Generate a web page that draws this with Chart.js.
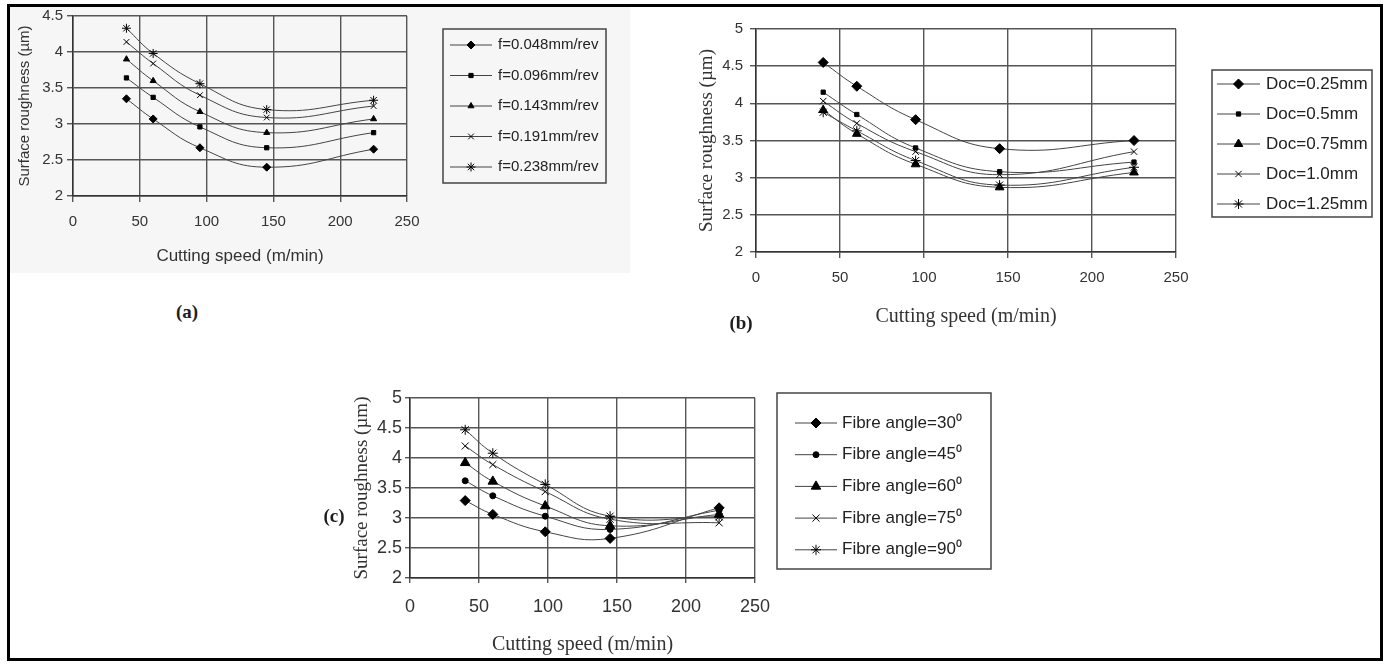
<!DOCTYPE html>
<html>
<head>
<meta charset="utf-8">
<title>Surface roughness vs cutting speed</title>
<script src="https://cdn.jsdelivr.net/npm/chart.js@4.4.1/dist/chart.umd.min.js"></script>
<style>
  html, body { margin: 0; padding: 0; background: #fff; }
  body { width: 1385px; height: 665px; position: relative; overflow: hidden; }
  canvas { position: absolute; }
  .shade { position: absolute; left: 10px; top: 7px; width: 620px; height: 266px; background: #f6f6f6; }
  .frame { position: absolute; left: 7px; top: 4px; width: 1376px; height: 657px; box-sizing: border-box; border: 3px solid #000; pointer-events: none; }
  .tag { position: absolute; font-family: "Liberation Serif", "Times New Roman", serif; font-weight: bold; font-size: 19px; color: #1e1e1e; transform: translate(-50%, -50%); }
</style>
</head>
<body>
<div class="shade"></div>
<canvas id="chartA" width="640" height="300" style="left:0px;top:0px"></canvas>
<canvas id="chartB" width="695" height="345" style="left:690px;top:0px"></canvas>
<canvas id="chartC" width="680" height="285" style="left:340px;top:380px"></canvas>
<div class="tag" style="left:187px;top:312px">(a)</div>
<div class="tag" style="left:741px;top:323px">(b)</div>
<div class="tag" style="left:334px;top:516px">(c)</div>
<div class="frame"></div>

<script>
// cutting speeds (m/min) of the measured points
const speedA = [40, 60, 95, 145, 225];
const speedB = [40, 60, 95, 145, 225];
const speedC = [40, 60, 98, 145, 224];

// axis ticks
const speedTicks = [0, 50, 100, 150, 200, 250];
const roughTicksA = [2, 2.5, 3, 3.5, 4, 4.5];
const roughTicksBC = [2, 2.5, 3, 3.5, 4, 4.5, 5];

// (a) feed rate
const feedLabels = ['f=0.048mm/rev', 'f=0.096mm/rev', 'f=0.143mm/rev', 'f=0.191mm/rev', 'f=0.238mm/rev'];
const feed048 = [3.35, 3.07, 2.67, 2.40, 2.65];
const feed096 = [3.64, 3.37, 2.96, 2.67, 2.88];
const feed143 = [3.90, 3.60, 3.17, 2.88, 3.07];
const feed191 = [4.14, 3.84, 3.40, 3.09, 3.25];
const feed238 = [4.33, 3.98, 3.56, 3.20, 3.33];

// (b) depth of cut
const docLabels = ['Doc=0.25mm', 'Doc=0.5mm', 'Doc=0.75mm', 'Doc=1.0mm', 'Doc=1.25mm'];
const doc025 = [4.55, 4.23, 3.78, 3.39, 3.50];
const doc050 = [4.15, 3.85, 3.40, 3.08, 3.21];
const doc075 = [3.91, 3.59, 3.18, 2.87, 3.07];
const doc100 = [4.03, 3.73, 3.35, 3.04, 3.35];
const doc125 = [3.88, 3.63, 3.23, 2.90, 3.14];

// (c) fibre angle
const angleLabels = ['Fibre angle=30⁰', 'Fibre angle=45⁰', 'Fibre angle=60⁰', 'Fibre angle=75⁰', 'Fibre angle=90⁰'];
const angle30 = [3.29, 3.06, 2.77, 2.66, 3.17];
const angle45 = [3.62, 3.37, 3.03, 2.81, 3.13];
const angle60 = [3.92, 3.61, 3.20, 2.87, 3.06];
const angle75 = [4.20, 3.89, 3.44, 2.98, 2.92];
const angle90 = [4.47, 4.08, 3.56, 3.03, 3.02];

const SANS = '"Liberation Sans", Arial, sans-serif';
const SERIF = '"Liberation Serif", "Times New Roman", serif';

// legend drawn as a framed box beside the plot (line + marker + text)
const boxLegend = {
  id: 'boxLegend',
  afterDraw(chart, args, opts) {
    const ctx = chart.ctx;
    ctx.save();
    ctx.strokeStyle = '#444';
    ctx.lineWidth = 1.5;
    ctx.strokeRect(opts.left, opts.top, opts.width, opts.height);
    ctx.font = opts.font;
    ctx.textBaseline = 'middle';
    chart.data.datasets.forEach((ds, i) => {
      const y = opts.firstRow + i * opts.rowGap;
      ctx.strokeStyle = ds.borderColor;
      ctx.lineWidth = 1;
      ctx.beginPath();
      ctx.moveTo(opts.lineFrom, y);
      ctx.lineTo(opts.lineTo, y);
      ctx.stroke();
      ctx.fillStyle = ds.pointBackgroundColor;
      ctx.strokeStyle = ds.pointBorderColor;
      Chart.helpers.drawPoint(ctx, {
        pointStyle: ds.pointStyle, radius: ds.pointRadius, rotation: 0, borderWidth: ds.pointBorderWidth
      }, (opts.lineFrom + opts.lineTo) / 2, y);
      ctx.fillStyle = '#222';
      ctx.fillText(ds.label, opts.textX, y);
    });
    ctx.restore();
  }
};

function buildSets(labels, speeds, series, markers) {
  return series.map((vals, i) => ({
    label: labels[i],
    data: speeds.map((s, j) => ({ x: s, y: vals[j] })),
    borderColor: '#444',
    borderWidth: 1,
    tension: 0.45,
    fill: false,
    pointStyle: markers[i][0],
    pointRadius: markers[i][1],
    pointBackgroundColor: '#000',
    pointBorderColor: '#000',
    pointBorderWidth: 1
  }));
}

function axes(g) {
  return {
    x: {
      type: 'linear',
      min: speedTicks[0],
      max: speedTicks[speedTicks.length - 1],
      afterBuildTicks: s => { s.ticks = speedTicks.map(v => ({ value: v })); },
      ticks: { padding: g.xPad, color: '#333', font: { family: SANS, size: g.tick } },
      grid: { color: '#555', lineWidth: 1.4, tickLength: g.tl, tickColor: '#555' },
      border: { color: '#333', width: 1.5 },
      title: { display: true, text: 'Cutting speed (m/min)', color: '#333', padding: 0,
               font: { family: g.titleFamily, size: g.xTitle } },
      afterFit: s => { s.height = g.xH; }
    },
    y: {
      type: 'linear',
      min: g.yTicks[0],
      max: g.yTicks[g.yTicks.length - 1],
      afterBuildTicks: s => { s.ticks = g.yTicks.map(v => ({ value: v })); },
      ticks: { padding: g.yPad, color: '#333', font: { family: SANS, size: g.tick },
               callback: v => String(v) },
      grid: { color: '#555', lineWidth: 1.4, tickLength: g.tl, tickColor: '#555' },
      border: { color: '#333', width: 1.5 },
      title: { display: true, text: 'Surface roughness (µm)', color: '#333', padding: 0,
               font: { family: g.titleFamily, size: g.yTitle } },
      afterFit: s => { s.width = g.yW; }
    }
  };
}

function makeChart(id, datasets, g, legend) {
  return new Chart(document.getElementById(id), {
    type: 'line',
    data: { datasets: datasets },
    options: {
      responsive: false,
      animation: false,
      layout: { padding: g.pad },
      scales: axes(g),
      plugins: {
        legend: { display: false },
        tooltip: { enabled: false },
        boxLegend: legend
      }
    },
    plugins: [boxLegend]
  });
}

// (a)
makeChart('chartA',
  buildSets(feedLabels, speedA, [feed048, feed096, feed143, feed191, feed238],
    [['rectRot', 4], ['rect', 3], ['triangle', 3.5], ['crossRot', 4], ['star', 4.5]]),
  { pad: { left: 16, top: 16, right: 233, bottom: 33 }, yW: 57, xH: 71,
    tick: 15, tl: 6, xPad: 11, yPad: 4, titleFamily: SANS, xTitle: 17, yTitle: 15, yTicks: roughTicksA },
  { left: 443, top: 29, width: 163, height: 154, firstRow: 45, rowGap: 30.5,
    lineFrom: 450, lineTo: 492, textX: 498, font: '15px ' + SANS });

// (b)
makeChart('chartB',
  buildSets(docLabels, speedB, [doc025, doc050, doc075, doc100, doc125],
    [['rectRot', 5], ['rect', 3], ['triangle', 5], ['crossRot', 4.5], ['star', 5]]),
  { pad: { left: 5.6, top: 29, right: 209, bottom: 16 }, yW: 60.4, xH: 77,
    tick: 15, tl: 6, xPad: 11, yPad: 7, titleFamily: SERIF, xTitle: 20, yTitle: 19, yTicks: roughTicksBC },
  { left: 522, top: 70, width: 160, height: 147, firstRow: 84, rowGap: 30,
    lineFrom: 527, lineTo: 570, textX: 576, font: '17px ' + SANS });

// (c)
makeChart('chartC',
  buildSets(angleLabels, speedC, [angle30, angle45, angle60, angle75, angle90],
    [['rectRot', 5], ['circle', 3], ['triangle', 5.5], ['crossRot', 5], ['star', 5]]),
  { pad: { left: 10.6, top: 18, right: 265, bottom: 8 }, yW: 59.4, xH: 79,
    tick: 18, tl: 5, xPad: 13, yPad: 3, titleFamily: SERIF, xTitle: 20, yTitle: 19, yTicks: roughTicksBC },
  { left: 437, top: 13, width: 214, height: 176, firstRow: 43, rowGap: 31.7,
    lineFrom: 455, lineTo: 497, textX: 502, font: '17px ' + SANS });
</script>
</body>
</html>
